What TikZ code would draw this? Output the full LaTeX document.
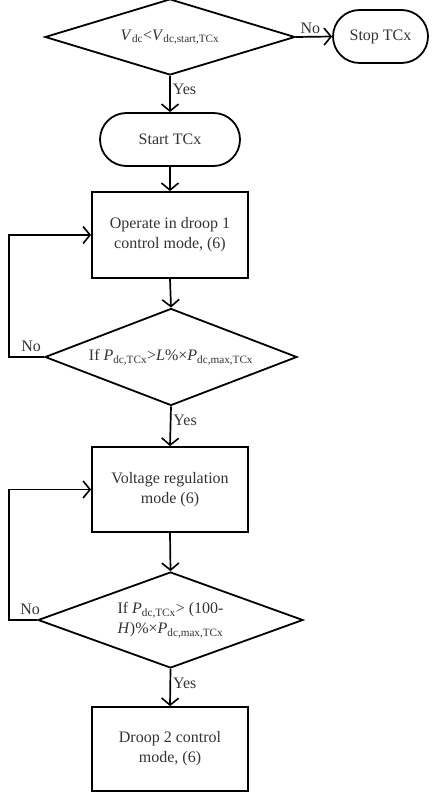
\documentclass[tikz,border=0pt]{standalone}
\usepackage{fontspec}
\setmainfont{Liberation Serif}
\usetikzlibrary{shapes.geometric,shapes.misc,arrows.meta}
\begin{document}
\begin{tikzpicture}[x=1pt,y=-1pt,
  every node/.style={font=\fontsize{16}{20}\selectfont, text=black!80},
  base/.style={draw=black, line width=1.8pt, inner sep=0pt, align=center},
  procbox/.style={base, rectangle, minimum width=156pt, minimum height=85pt},
  termbox/.style={base, rounded rectangle, minimum height=53pt},
  decision/.style={base, diamond, shape aspect=3},
  arr/.style={draw=black, line width=1.7pt, -{Straight Barb[length=7pt,width=17pt,line width=1.6pt]}},
  lbl/.style={inner sep=2pt}
]
\useasboundingbox (0,0) rectangle (435,794);

\node[decision, minimum width=250pt, minimum height=76pt] (d1) at (170,37)
  {\textit{V}\textsubscript{dc}<\textit{V}\textsubscript{dc,start,TCx}};
\node[termbox, minimum width=95pt] (stop) at (380.5,36.5) {Stop TCx};
\node[termbox, minimum width=140pt] (start) at (170,139.5) {Start TCx};
\node[procbox, minimum height=86pt] (b1) at (170,235) {Operate in droop 1\\control mode, (6)};
\node[decision, minimum width=252pt, minimum height=97pt] (d2) at (171,357)
  {If \textit{P}\textsubscript{dc,TCx}>\textit{L}\%×\textit{P}\textsubscript{dc,max,TCx}};
\node[procbox] (b2) at (170,489.5) {Voltage regulation\\mode (6)};
\node[decision, minimum width=265pt, minimum height=96pt] (d3) at (170.5,620)
  {If \textit{P}\textsubscript{dc,TCx}> (100-\\\textit{H})\%×\textit{P}\textsubscript{dc,max,TCx}};
\node[procbox, minimum height=84pt] (b3) at (170,749) {Droop 2 control\\mode, (6)};

\draw[arr] (d1.east) -- (stop.west) node[lbl, pos=0.4, above] {No};
\draw[arr] (d1.south) -- (start.north) node[lbl, pos=0.37, right] {Yes};
\draw[arr] (start.south) -- (b1.north);
\draw[arr] (b1.south) -- (d2.north);
\draw[arr] (d2.south) -- (b2.north) node[lbl, pos=0.36, right] {Yes};
\draw[arr] (b2.south) -- (d3.north);
\draw[arr] (d3.south) -- (b3.north) node[lbl, pos=0.38, right] {Yes};

\draw[arr] (d2.west) -- ++(-35,0) coordinate (l1) |- (b1.west);
\node[lbl, anchor=south east] at ([xshift=-1pt,yshift=3pt]d2.west) {No};
\draw[arr] (d3.west) -- ++(-28,0) coordinate (l2) |- (b2.west);
\node[lbl, anchor=south east] at ([xshift=5pt,yshift=3pt]d3.west) {No};
\end{tikzpicture}
\end{document}
